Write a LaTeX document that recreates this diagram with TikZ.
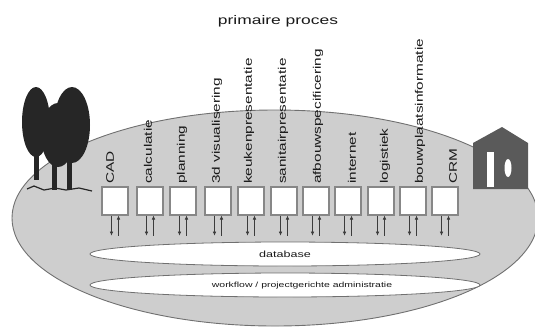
\documentclass[tikz,border=0pt]{standalone}
\usepackage{graphicx}
\usepackage{fontspec}
\setmainfont{Liberation Sans}
\usetikzlibrary{arrows.meta,shapes.geometric}
\definecolor{veldgrijs}{RGB}{206,206,206}
\definecolor{lijngrijs}{RGB}{112,112,112}
\definecolor{vakgrijs}{RGB}{135,135,135}
\definecolor{boomzwart}{RGB}{38,38,38}
\definecolor{huisgrijs}{RGB}{90,90,90}
\definecolor{tekstzwart}{RGB}{25,25,25}
\newcommand{\rek}[1]{\scalebox{1.4}[1]{#1}}
\tikzset{
  >={Latex[length=4bp,width=3.6bp]},
  veld/.style={ellipse, draw=lijngrijs, fill=veldgrijs, line width=0.9bp, inner sep=0pt},
  laag/.style={ellipse, draw=lijngrijs, fill=white, line width=0.8bp, inner sep=0pt,
    minimum width=390bp, minimum height=24bp},
  vak/.style={draw=vakgrijs, fill=white, line width=1.2bp, inner sep=0pt,
    minimum width=26bp, minimum height=28bp},
  toepassing/.style={rotate=90, anchor=west, inner sep=0pt, text=tekstzwart,
    font=\fontsize{11}{12}\selectfont},
  pijl/.style={->, draw=tekstzwart!85, line width=0.6bp},
}

\begin{document}
\begin{tikzpicture}[x=1bp, y=-1bp]
  \useasboundingbox (0,0) rectangle (535,330);
  % ondergrond: het bedrijf
  \node[veld, minimum width=526bp, minimum height=216bp] (bedrijf) at (275,218) {};
  % bomen links
  \fill[boomzwart] (34,148) rectangle (39,180);
  \fill[boomzwart] (51.5,156) rectangle (56.5,190);
  \fill[boomzwart] (66.5,156) rectangle (71.5,190);
  \fill[boomzwart] (36,122) ellipse [x radius=14bp, y radius=35bp];
  \fill[boomzwart] (72,125) ellipse [x radius=18bp, y radius=38bp];
  \fill[boomzwart] (58,135) ellipse [x radius=17bp, y radius=32bp];
  \draw[boomzwart, line width=1.2bp] (27,189) -- (34,186) -- (44,190) -- (55,188) -- (66,190) -- (79,188) -- (92,191);
  % huis rechts
  \fill[huisgrijs] (473,189) -- (473,143) -- (502,127) -- (528,143) -- (528,189) -- cycle;
  \fill[white] (487,152) rectangle (494,187);
  \fill[white] (508,168) ellipse [x radius=3.5bp, y radius=9bp];
  % titel
  \node[text=tekstzwart, font=\fontsize{12.5}{14}\selectfont] (titel) at (278,21) {\rek{primaire proces}};
  % gedeelde lagen
  \node[laag, text=tekstzwart, font=\fontsize{9}{10}\selectfont] (db) at (285,254) {\rek{database}};
  \node[laag] (wf) at (285,285) {};
  \node[text=tekstzwart, font=\fontsize{7.5}{9}\selectfont] (wftekst) at (302,286) {\rek{workflow / projectgerichte administratie}};
  % toepassingen met koppeling naar de database
  \foreach \x/\lx/\naam [count=\i] in {115/110/CAD, 150/148/calculatie, 183/182/planning,
      218/217/3d visualisering, 251/249/keukenpresentatie, 284/283/sanitairpresentatie,
      316/318/afbouwspecificering, 348/352/internet, 381/385/logistiek,
      413/420/bouwplaatsinformatie, 445/453/CRM} {
    \node[vak] (vak\i) at (\x,201) {};
    \node[toepassing] (app\i) at (\lx,184) {\rek{\naam}};
    \draw[pijl, shorten >=6bp] ([xshift=-3.5bp]vak\i.south) -- ([xshift=-3.5bp]vak\i.south |- db.north);
    \draw[pijl, shorten <=6bp] ([xshift=3.5bp]vak\i.south |- db.north) -- ([xshift=3.5bp]vak\i.south);
  }
\end{tikzpicture}
\end{document}
